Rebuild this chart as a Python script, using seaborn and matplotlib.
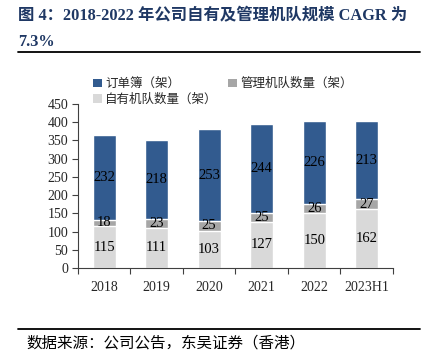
import matplotlib
matplotlib.use("Agg")
import matplotlib.pyplot as plt
from matplotlib.lines import Line2D
from matplotlib.patches import Patch
import seaborn as sns
import numpy as np
import pandas as pd

# fleet size by year (stacked: own fleet, managed fleet, order book)
years = ["2018", "2019", "2020", "2021", "2022", "2023H1"]
own_fleet = [115, 111, 103, 127, 150, 162]
managed_fleet = [18, 23, 25, 25, 26, 27]
order_book = [232, 218, 253, 244, 226, 213]

c_order = "#325b8f"
c_managed = "#a6a6a6"
c_own = "#d9d9d9"

serif_cjk = ["Liberation Serif", "Noto Sans CJK SC"]

df = pd.DataFrame({"year": years, "own": own_fleet, "managed": managed_fleet, "order": order_book})
df["own_managed"] = df["own"] + df["managed"]
df["total"] = df["own_managed"] + df["order"]

sns.set_style("white")
plt.rcParams["font.family"] = serif_cjk

fig = plt.figure(figsize=(4.3, 3.57), dpi=100)
ax = fig.add_axes([0.181, 0.249, 0.733, 0.46])

w = 0.44
sns.barplot(data=df, x="year", y="total", color=c_order, width=w, saturation=1, ax=ax)
sns.barplot(data=df, x="year", y="own_managed", color=c_managed, width=w, saturation=1, ax=ax)
sns.barplot(data=df, x="year", y="own", color=c_own, width=w, saturation=1, ax=ax)

# segment labels
for i, row in df.iterrows():
    ax.text(i, row["own"] / 2, str(row["own"]), ha="center", va="center", fontsize=10.5, color="black")
    ax.text(i, row["own"] + row["managed"] / 2, str(row["managed"]), ha="center", va="center", fontsize=10.5, color="black")
    ax.text(i, row["own_managed"] + row["order"] / 2, str(row["order"]), ha="center", va="center", fontsize=10.5, color="black")

ax.set_ylim(0, 450)
ax.set_yticks(np.arange(0, 451, 50))
ax.set_xlim(-0.5, len(years) - 0.5)
ax.set_xlabel("")
ax.set_ylabel("")
ax.set_xticks(np.arange(-0.5, len(years), 1), minor=True)
ax.tick_params(axis="x", which="major", length=0, pad=9, labelsize=10)
ax.tick_params(axis="x", which="minor", length=4, direction="out", color="#404040", width=0.8)
ax.tick_params(axis="y", length=4, direction="out", color="#404040", width=0.8, labelsize=10, pad=3)
ax.tick_params(axis="both", bottom=False, left=True)
ax.tick_params(axis="x", which="minor", bottom=True)
for s in ["top", "right"]:
    ax.spines[s].set_visible(False)
for s in ["left", "bottom"]:
    ax.spines[s].set_color("#404040")
    ax.spines[s].set_linewidth(0.8)

handles = [
    Patch(facecolor=c_order, edgecolor="none", label="订单簿（架）"),
    Patch(facecolor=c_own, edgecolor="none", label="自有机队数量（架）"),
    Patch(facecolor=c_managed, edgecolor="none", label="管理机队数量（架）"),
]
leg = fig.legend(handles=handles, ncol=2, loc="upper left", bbox_to_anchor=(0.19, 0.815),
                 frameon=False, handlelength=0.7, handleheight=0.7,
                 handletextpad=0.3, columnspacing=0.8, labelspacing=0.2,
                 prop={"family": ["Noto Sans CJK SC"], "size": 9})

# title and source
fig.text(0.042, 0.957, "图 4：2018-2022 年公司自有及管理机队规模 CAGR 为", fontsize=11.8,
         fontweight="bold", color="#1f3864", va="center", ha="left")
fig.text(0.042, 0.882, "7.3%", fontsize=11.8, fontweight="bold", color="#1f3864", va="center", ha="left")
fig.add_artist(Line2D([0.042, 0.977], [0.853, 0.853], color="black", lw=1.3, transform=fig.transFigure))
fig.add_artist(Line2D([0.042, 0.977], [0.078, 0.078], color="black", lw=1.3, transform=fig.transFigure))
fig.text(0.062, 0.038, "数据来源：公司公告，东吴证券（香港）", fontsize=11.2, color="black", va="center", ha="left",
         family=["Noto Sans CJK SC"])

fig.savefig("out.png", dpi=100)
